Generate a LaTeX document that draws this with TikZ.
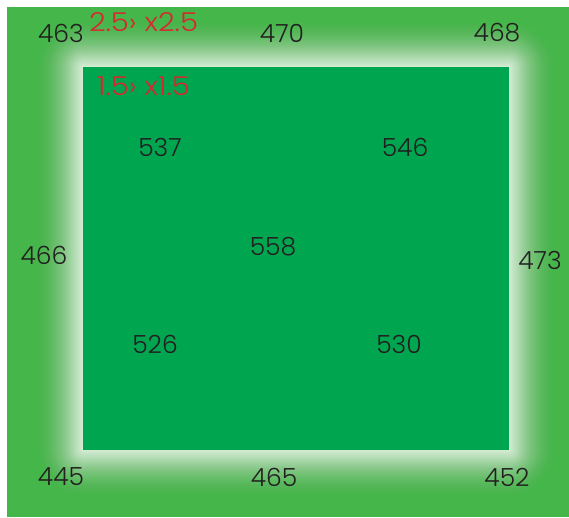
\documentclass[tikz,border=0pt]{standalone}
\usepackage{fontspec}
\setmainfont{Poppins}[UprightFont=*-Light]
\definecolor{outergreen}{RGB}{69,182,73}
\definecolor{innergreen}{RGB}{0,165,80}
\definecolor{txt}{RGB}{35,31,32}
\definecolor{redtxt}{RGB}{214,40,45}
\begin{document}
\begin{tikzpicture}[x=1pt,y=-1pt,
  lab/.style={font=\fontsize{25}{25}\selectfont,text=txt,inner sep=0pt},
  rlab/.style={font=\fontsize{26}{26}\selectfont,text=redtxt,inner sep=0pt,xscale=1.12}]
\useasboundingbox (0,0) rectangle (569,517);
\fill[white] (0,0) rectangle (569,517);
\fill[outergreen] (7,7) rectangle (569,517);
\foreach \i in {45,44,...,1}{
  \pgfmathsetmacro{\op}{0.1*exp(-\i/18)}
  \fill[white,fill opacity=\op,rounded corners=\i*1pt] (83-\i,67-\i) rectangle (509+\i,450+\i);
}
\fill[innergreen] (83,67) rectangle (509,450);
\node[lab] (n463) at (61,33) {463};
\node[rlab] (r25) at (143.5,22) {2.5› x2.5};
\node[lab] (n470) at (282,33) {470};
\node[lab] (n468) at (497,33) {468};
\node[rlab] (r15) at (143.5,86) {1.5› x1.5};
\node[lab] (n537) at (160,147) {537};
\node[lab] (n546) at (405,147) {546};
\node[lab] (n466) at (44,255) {466};
\node[lab] (n558) at (273,247) {558};
\node[lab] (n473) at (540,260) {473};
\node[lab] (n526) at (155,344) {526};
\node[lab] (n530) at (399,344) {530};
\node[lab] (n445) at (61,477) {445};
\node[lab] (n465) at (274,477) {465};
\node[lab] (n452) at (507,477) {452};
\end{tikzpicture}
\end{document}
